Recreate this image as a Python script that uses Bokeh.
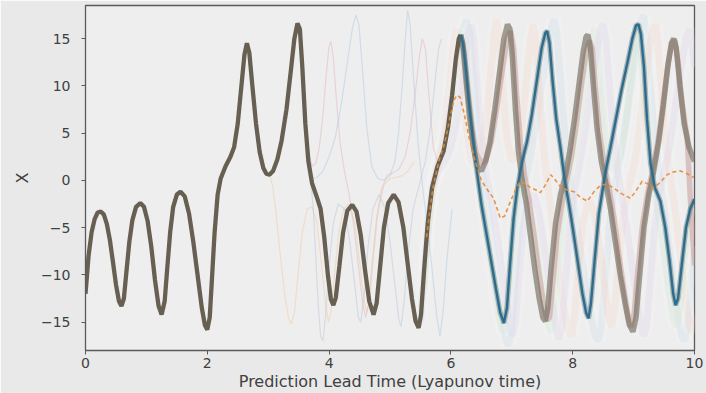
from bokeh.plotting import figure
from bokeh.models import FixedTicker
from bokeh.embed import file_html
from bokeh.resources import INLINE

# ---------------- data ----------------
# common trajectory (all members overlapping) 0 .. 6.16
truth_t = [0.00, 0.05, 0.10, 0.15, 0.20, 0.25, 0.30, 0.35, 0.40, 0.45, 0.50, 0.55, 0.59, 0.63, 0.67, 0.72,
           0.77, 0.83, 0.90, 0.96, 1.02, 1.08, 1.14, 1.20, 1.25, 1.30, 1.34, 1.39, 1.44, 1.50, 1.56, 1.63,
           1.70, 1.77, 1.84, 1.91, 1.96, 2.00, 2.04, 2.08, 2.12, 2.17, 2.22, 2.30, 2.38, 2.44, 2.50, 2.56,
           2.61, 2.65, 2.69, 2.74, 2.80, 2.86, 2.92, 2.97, 3.02, 3.08, 3.15, 3.22, 3.30, 3.37, 3.43, 3.48,
           3.52, 3.56, 3.61, 3.66, 3.72, 3.80, 3.86, 3.92, 3.98, 4.03, 4.07, 4.11, 4.17, 4.23, 4.30, 4.38,
           4.45, 4.52, 4.59, 4.66, 4.73, 4.78, 4.84, 4.90, 4.97, 5.06, 5.14, 5.22, 5.29, 5.36, 5.42, 5.47,
           5.51, 5.56, 5.62, 5.69, 5.78, 5.88, 5.95, 6.02, 6.08, 6.13, 6.16]
truth_x = [-12.0, -8.0, -5.5, -4.1, -3.4, -3.3, -3.6, -4.6, -6.3, -8.6, -11.0, -12.8, -13.3, -12.5, -9.8, -6.5,
           -4.2, -2.8, -2.4, -2.8, -4.3, -7.0, -10.5, -13.3, -14.2, -12.8, -9.5, -5.5, -2.8, -1.5, -1.2, -1.7,
           -3.5, -6.5, -10.0, -13.5, -15.3, -15.8, -14.5, -10.0, -5.5, -1.5, 0.2, 1.5, 2.5, 3.5, 6.0, 10.0,
           13.3, 14.5, 13.5, 10.0, 6.0, 3.0, 1.3, 0.7, 0.6, 1.0, 2.2, 4.2, 7.5, 11.5, 15.0, 16.6,
           16.0, 12.0, 6.0, 2.0, -0.3, -1.8, -3.0, -6.0, -10.0, -12.6, -13.2, -12.4, -9.0, -5.5, -3.2, -2.6,
           -3.3, -5.8, -9.5, -12.8, -14.2, -13.0, -9.0, -5.0, -2.4, -1.5, -2.3, -5.0, -8.8, -12.5, -14.9, -15.6,
           -14.2, -9.5, -4.5, -0.8, 1.5, 3.1, 5.5, 9.0, 12.8, 15.0, 15.4]

# member A (blue) after divergence
a_t = [6.16, 6.20, 6.25, 6.30, 6.36, 6.43, 6.50, 6.58, 6.66, 6.74, 6.81, 6.87, 6.92, 6.97, 7.03, 7.09,
       7.17, 7.25, 7.33, 7.41, 7.49, 7.55, 7.58, 7.62, 7.67, 7.73, 7.80, 7.87, 7.93, 8.00, 8.08, 8.16,
       8.22, 8.26, 8.30, 8.36, 8.43, 8.53, 8.62, 8.71, 8.80, 8.90, 8.98, 9.04, 9.08, 9.12, 9.17, 9.22,
       9.28, 9.35, 9.44, 9.52, 9.59, 9.65, 9.69, 9.73, 9.79, 9.86, 9.93, 10.0]
a_x = [15.4, 14.5, 11.5, 8.0, 4.5, 0.8, -2.5, -5.5, -8.5, -11.5, -14.0, -15.1, -13.5, -9.0, -4.0, -0.8,
       2.0, 4.1, 7.0, 10.5, 14.0, 15.6, 15.8, 14.5, 10.5, 6.5, 3.4, 0.0, -2.2, -5.0, -8.5, -12.0,
       -14.0, -14.6, -13.0, -8.5, -3.5, 0.6, 3.5, 6.5, 9.5, 12.5, 15.0, 16.4, 16.5, 15.5, 12.0, 6.5,
       1.7, -0.8, -2.2, -5.0, -8.5, -12.0, -13.2, -12.5, -9.0, -5.0, -3.0, -2.0]

# member B (olive grey)
b_t = [6.16, 6.20, 6.25, 6.31, 6.37, 6.43, 6.50, 6.57, 6.64, 6.72, 6.80, 6.87, 6.93, 6.97, 7.01, 7.06,
       7.11, 7.17, 7.24, 7.31, 7.38, 7.45, 7.51, 7.55, 7.59, 7.65, 7.72, 7.80, 7.88, 7.95, 8.03, 8.10,
       8.17, 8.22, 8.25, 8.29, 8.34, 8.40, 8.47, 8.55, 8.62, 8.70, 8.78, 8.86, 8.93, 8.99, 9.04, 9.10,
       9.17, 9.25, 9.33, 9.41, 9.49, 9.56, 9.62, 9.66, 9.70, 9.76, 9.83, 9.91, 10.0]
b_x = [15.4, 14.0, 10.5, 6.5, 3.5, 1.5, 1.0, 2.0, 4.0, 7.5, 11.5, 15.0, 16.5, 16.0, 13.0, 7.5,
       3.0, 0.0, -2.5, -6.0, -9.5, -12.5, -14.5, -14.9, -13.5, -9.0, -4.5, -1.5, 0.5, 3.0, 6.5, 10.0,
       13.5, 15.2, 15.4, 14.0, 10.0, 5.5, 2.0, -0.5, -3.0, -6.5, -10.0, -13.0, -15.3, -16.0, -14.5, -10.0,
       -5.0, -1.5, 1.0, 4.0, 8.0, 12.0, 14.5, 15.0, 14.0, 10.0, 6.0, 3.5, 2.0]

# member C (rose)
c_t = [6.16, 6.22, 6.28, 6.35, 6.42, 6.50, 6.58, 6.66, 6.75, 6.84, 6.92, 6.98, 7.03, 7.08, 7.14, 7.21,
       7.28, 7.36, 7.44, 7.52, 7.58, 7.62, 7.67, 7.74, 7.82, 7.90, 7.98, 8.06, 8.14, 8.22, 8.28, 8.32,
       8.37, 8.44, 8.52, 8.60, 8.68, 8.76, 8.84, 8.91, 8.96, 9.01, 9.07, 9.15, 9.24, 9.33, 9.42, 9.50,
       9.57, 9.63, 9.68, 9.73, 9.80, 9.88, 9.94, 10.0]
c_x = [15.4, 13.5, 9.5, 5.5, 2.8, 1.8, 2.2, 4.0, 7.5, 11.5, 14.8, 15.8, 14.0, 9.0, 4.0, 0.5,
       -2.0, -5.5, -9.5, -13.0, -14.8, -14.5, -11.0, -6.0, -2.5, 0.0, 2.5, 6.0, 10.0, 13.5, 14.8, 14.0,
       10.0, 5.0, 1.5, -1.0, -4.0, -8.0, -11.5, -14.5, -15.5, -14.0, -9.5, -4.5, -1.0, 1.5, 5.0, 9.0,
       12.5, 14.5, 14.8, 12.5, 8.0, 4.5, -3.0, -9.0]

# faint members, late divergence (haze)
g1_t = [5.50, 5.56, 5.62, 5.70, 5.80, 5.90, 6.00, 6.10, 6.20, 6.26, 6.31, 6.37, 6.44, 6.52, 6.60, 6.68,
        6.76, 6.84, 6.90, 6.95, 7.00, 7.06, 7.13, 7.21, 7.30, 7.40, 7.50, 7.60, 7.66, 7.70, 7.74, 7.80,
        7.87, 7.95, 8.03, 8.12, 8.21, 8.30, 8.37, 8.42, 8.47, 8.53, 8.60, 8.68, 8.77, 8.86, 8.95, 9.04,
        9.11, 9.16, 9.20, 9.26, 9.33, 9.41, 9.49, 9.57, 9.65, 9.73, 9.79, 9.84, 9.89, 9.95, 10.0]
g1_x = [-15.0, -10.0, -4.0, 0.0, 2.5, 4.5, 8.0, 12.5, 16.0, 17.0, 15.5, 10.5, 5.0, 0.5, -3.0, -7.0,
        -11.0, -14.5, -16.8, -17.5, -15.5, -10.0, -4.5, -0.5, 2.5, 6.0, 10.5, 14.5, 16.5, 17.0, 15.5, 10.5,
        5.0, 0.5, -3.0, -7.0, -11.0, -14.5, -16.5, -17.0, -15.5, -10.5, -5.0, -1.0, 2.0, 5.5, 9.5, 13.5,
        16.5, 17.5, 16.0, 11.0, 5.5, 1.0, -2.5, -6.5, -10.5, -14.5, -16.5, -17.0, -15.0, -10.5, -7.0]

g2_t = [5.60, 5.66, 5.74, 5.82, 5.90, 5.97, 6.04, 6.09, 6.13, 6.19, 6.26, 6.34, 6.42, 6.50, 6.58, 6.65,
        6.71, 6.75, 6.79, 6.85, 6.92, 7.00, 7.08, 7.16, 7.23, 7.30, 7.35, 7.39, 7.45, 7.52, 7.60, 7.68,
        7.76, 7.84, 7.92, 7.98, 8.03, 8.10, 8.18, 8.27, 8.36, 8.44, 8.52, 8.59, 8.64, 8.69, 8.76, 8.84,
        8.93, 9.02, 9.10, 9.18, 9.26, 9.32, 9.36, 9.40, 9.46, 9.53, 9.61, 9.69, 9.77, 9.85, 9.92, 9.96, 10.0]
g2_x = [-8.0, -3.0, 0.5, 2.5, 5.5, 9.5, 14.0, 16.0, 15.0, 10.5, 5.5, 2.0, 1.5, 3.0, 6.5, 11.0,
        15.5, 17.0, 15.5, 10.0, 4.5, 2.0, 2.5, 5.5, 10.0, 14.5, 16.5, 15.0, 9.5, 3.5, -1.0, -5.0,
        -9.0, -13.0, -15.8, -16.5, -14.5, -9.0, -4.0, -2.0, -3.5, -7.0, -11.0, -14.5, -15.5, -13.5, -8.5, -3.5,
        -0.5, 2.0, 5.5, 10.0, 14.0, 16.0, 16.5, 14.5, 9.5, 4.0, 0.0, -3.5, -8.0, -12.5, -15.5, -16.0, -14.5]

g3_t = [5.55, 5.62, 5.70, 5.80, 5.90, 6.00, 6.08, 6.15, 6.19, 6.23, 6.29, 6.36, 6.44, 6.52, 6.61, 6.70,
        6.78, 6.84, 6.89, 6.95, 7.02, 7.10, 7.19, 7.28, 7.37, 7.46, 7.54, 7.61, 7.66, 7.71, 7.78, 7.86,
        7.95, 8.04, 8.13, 8.22, 8.30, 8.36, 8.40, 8.46, 8.53, 8.61, 8.70, 8.78, 8.87, 8.95, 9.02, 9.07,
        9.11, 9.17, 9.24, 9.32, 9.41, 9.50, 9.58, 9.65, 9.71, 9.76, 9.83, 9.91, 10.0]
g3_x = [-12.0, -5.5, -1.0, 1.8, 3.5, 7.0, 11.5, 15.0, 15.8, 14.5, 10.0, 5.0, 0.8, -2.5, -6.5, -10.5,
        -14.0, -16.0, -15.5, -11.0, -5.0, -1.5, -0.5, -2.0, -5.5, -9.5, -13.0, -15.5, -16.0, -13.5, -8.0, -3.0,
        0.5, 3.5, 7.0, 11.0, 14.5, 16.0, 15.0, 10.5, 5.0, 1.5, 1.0, 2.5, 6.0, 10.5, 14.5, 16.0,
        14.5, 9.5, 4.0, 0.0, -3.5, -7.5, -11.5, -14.5, -15.5, -13.5, -8.5, -4.5, -2.5]

g4_t = [5.70, 5.80, 5.90, 6.00, 6.10, 6.20, 6.28, 6.33, 6.37, 6.43, 6.50, 6.58, 6.67, 6.76, 6.86, 6.95,
        7.01, 7.06, 7.12, 7.19, 7.27, 7.36, 7.45, 7.54, 7.63, 7.71, 7.77, 7.82, 7.88, 7.95, 8.03, 8.12,
        8.21, 8.30, 8.39, 8.46, 8.50, 8.54, 8.60, 8.67, 8.75, 8.84, 8.93, 9.02, 9.10, 9.16, 9.21, 9.27,
        9.34, 9.42, 9.51, 9.60, 9.69, 9.78, 9.86, 9.91, 9.95, 10.0]
g4_x = [-0.5, 1.0, 2.0, 3.5, 6.5, 11.0, 15.0, 16.5, 15.0, 10.0, 4.5, 0.5, -2.5, -6.0, -10.5, -14.5,
        -16.5, -15.0, -10.0, -5.0, -2.0, -1.5, -3.5, -7.5, -11.5, -15.0, -16.8, -15.5, -10.5, -5.0, -1.0, 2.0,
        5.5, 9.5, 13.5, 16.0, 16.5, 15.0, 10.0, 4.5, 0.5, -3.0, -7.0, -11.0, -14.5, -16.5, -15.5, -11.0,
        -5.5, -1.5, 1.0, 4.0, 8.0, 12.0, 15.0, 16.0, 15.0, 12.0]

# faint members, early divergence (thin)
h1_t = [3.56, 3.61, 3.66, 3.72, 3.78, 3.84, 3.90, 3.95, 4.00, 4.03, 4.07, 4.12, 4.18, 4.25, 4.33, 4.41,
        4.49, 4.55, 4.60, 4.65, 4.71, 4.78, 4.86, 4.95, 5.05, 5.15, 5.25, 5.33, 5.41, 5.48, 5.53, 5.58,
        5.64, 5.71, 5.80, 5.90, 6.00, 6.08, 6.15]
h1_x = [12.0, 6.5, 3.0, 1.5, 1.8, 3.5, 7.0, 11.0, 14.2, 14.7, 13.0, 8.5, 4.0, 1.0, -1.5, -5.0,
        -9.5, -13.0, -14.5, -13.0, -8.5, -4.0, -1.0, 0.5, 0.8, 1.2, 2.5, 5.0, 9.0, 13.0, 15.0, 14.0,
        9.0, 3.5, 1.5, 3.0, 7.0, 11.0, 14.5]

h2_t = [3.66, 3.72, 3.80, 3.90, 4.00, 4.10, 4.20, 4.30, 4.38, 4.44, 4.49, 4.55, 4.62, 4.70, 4.80, 4.90,
        5.00, 5.08, 5.14, 5.20, 5.25, 5.29, 5.33, 5.39, 5.46, 5.54, 5.62, 5.70, 5.77, 5.82, 5.87, 5.94, 6.02]
h2_x = [2.0, 0.2, 0.3, 1.0, 2.5, 4.5, 8.0, 12.5, 16.0, 17.5, 16.5, 11.5, 5.5, 1.5, 0.2, 0.0,
        0.5, 2.0, 5.0, 10.0, 15.0, 18.0, 16.5, 10.5, 4.0, -1.0, -5.0, -10.0, -14.5, -16.5, -14.0, -8.0, -3.0]

h3_t = [3.02, 3.07, 3.13, 3.20, 3.27, 3.33, 3.38, 3.43, 3.49, 3.56, 3.64, 3.72, 3.80, 3.87, 3.94, 3.99,
        4.03, 4.09, 4.16, 4.24, 4.33, 4.42, 4.50, 4.57, 4.62, 4.67, 4.73, 4.80, 4.90, 5.00, 5.10, 5.20,
        5.30, 5.40]
h3_x = [0.6, -0.5, -3.5, -8.0, -12.0, -14.5, -15.2, -14.0, -10.0, -5.5, -3.0, -2.8, -4.5, -8.5, -13.0, -15.0,
        -14.0, -10.0, -5.5, -3.0, -2.5, -4.5, -8.5, -12.5, -14.0, -12.5, -8.0, -3.5, -0.5, 0.2, 0.3, 0.5,
        1.0, 2.0]

h4_t = [3.66, 3.70, 3.74, 3.78, 3.82, 3.86, 3.90, 3.94, 4.00, 4.07, 4.15, 4.25, 4.34, 4.42, 4.48, 4.52,
        4.57, 4.64, 4.72, 4.82, 4.92, 5.00, 5.08, 5.14, 5.18, 5.23, 5.30, 5.38, 5.48, 5.58, 5.66, 5.74,
        5.80, 5.85]
h4_x = [2.0, 0.0, -3.0, -8.0, -13.0, -16.5, -17.0, -14.5, -9.0, -4.5, -2.5, -3.0, -6.5, -11.0, -14.5, -15.0,
        -12.5, -7.0, -3.0, -1.5, -3.0, -6.5, -11.0, -14.5, -15.5, -13.0, -7.5, -3.0, -0.5, 2.0, 5.5, 10.5,
        14.0, 15.0]

# ensemble mean (dashed)
mean_t = [5.60, 5.70, 5.80, 5.90, 5.98, 6.05, 6.10, 6.15, 6.22, 6.30, 6.40, 6.50, 6.60, 6.70, 6.76, 6.81,
          6.88, 6.98, 7.06, 7.14, 7.22, 7.31, 7.39, 7.47, 7.55, 7.64, 7.72, 7.80, 7.90, 8.02, 8.13, 8.24,
          8.35, 8.46, 8.56, 8.67, 8.80, 8.95, 9.05, 9.14, 9.24, 9.33, 9.44, 9.55, 9.66, 9.77, 9.88, 9.99]
mean_x = [-6.0, -1.0, 2.0, 4.0, 6.5, 8.5, 9.0, 8.8, 7.0, 4.5, 2.0, 0.0, -1.0, -1.9, -3.0, -4.0,
          -3.8, -2.2, -1.0, -0.1, -0.3, -0.8, -1.0, -1.3, -0.5, 0.6, 0.0, -0.7, -1.0, -1.2, -1.8, -2.2,
          -1.2, -0.5, -0.4, -0.8, -1.4, -1.9, -1.0, -0.1, -0.4, -0.8, -0.2, 0.6, 0.9, 1.0, 0.7, 0.3]

x_ticks = [0, 2, 4, 6, 8, 10]
y_ticks = [-15, -10, -5, 0, 5, 10, 15]
y_tick_labels = ["\u221215", "\u221210", "\u22125", "0", "5", "10", "15"]

# ---------------- figure ----------------
p = figure(frame_width=609, frame_height=345, x_range=(0, 10), y_range=(-18.0, 18.5),
           output_backend="svg", toolbar_location=None,
           min_border_left=85, min_border_right=12, min_border_top=5, min_border_bottom=43)
p.background_fill_color = "#eeeeee"
p.border_fill_color = "#e9e9e9"
p.outline_line_color = "#5a5a5a"
p.outline_line_width = 1.3
p.xgrid.visible = False
p.ygrid.visible = False

# haze members
for tt, xx, col in [(g1_t, g1_x, "#bcd3e6"), (g2_t, g2_x, "#f1cbbb"),
                    (g3_t, g3_x, "#c3e0c3"), (g4_t, g4_x, "#d3c8e3")]:
    p.line(tt, xx, line_color=col, line_width=7, line_alpha=0.3)
    p.line(tt, xx, line_color="#f8f8f8", line_width=14, line_alpha=0.18)

# thin early members
for tt, xx, col in [(h1_t, h1_x, "#e3b0b8"), (h2_t, h2_x, "#aec6e0"),
                    (h3_t, h3_x, "#f0c8a0"), (h4_t, h4_x, "#b8c0d8")]:
    p.line(tt, xx, line_color=col, line_width=1.2, line_alpha=0.45)

# main late members
p.line(c_t, c_x, line_color="#c89d9b", line_width=5.5, line_alpha=0.55)
p.line(b_t, b_x, line_color="#736d5e", line_width=5.5, line_alpha=0.65)
p.line(a_t, a_x, line_color="#5f8285", line_width=5, line_alpha=0.5)

# common trajectory
p.line(truth_t, truth_x, line_color="#685f53", line_width=4.3)
p.line(a_t, a_x, line_color="#2f6b8c", line_width=2.4)

# ensemble mean
p.line(mean_t, mean_x, line_color="#e58a34", line_width=1.6, line_dash="4 3", line_alpha=0.9)

for ax in (p.xaxis[0], p.yaxis[0]):
    ax.axis_line_color = "#5a5a5a"
    ax.major_tick_line_color = "#5a5a5a"
    ax.major_tick_in = 0
    ax.major_tick_out = 4
    ax.minor_tick_line_color = None
    ax.major_label_text_font = "DejaVu Sans"
    ax.major_label_text_font_size = "14px"
    ax.major_label_text_color = "#404040"
    ax.axis_label_text_font = "DejaVu Sans"
    ax.axis_label_text_font_size = "16px"
    ax.axis_label_text_font_style = "normal"
    ax.axis_label_text_color = "#404040"

p.xaxis.ticker = FixedTicker(ticks=x_ticks)
p.yaxis.ticker = FixedTicker(ticks=y_ticks)
p.yaxis.major_label_overrides = {t: s for t, s in zip(y_ticks, y_tick_labels)}
p.xaxis.major_label_standoff = 3
p.yaxis.major_label_standoff = 11
p.xaxis.axis_label = "Prediction Lead Time (Lyapunov time)"
p.yaxis.axis_label = "X"
p.xaxis.axis_label_standoff = 1
p.yaxis.axis_label_standoff = 6

open("out.html", "w").write(file_html(p, INLINE))
